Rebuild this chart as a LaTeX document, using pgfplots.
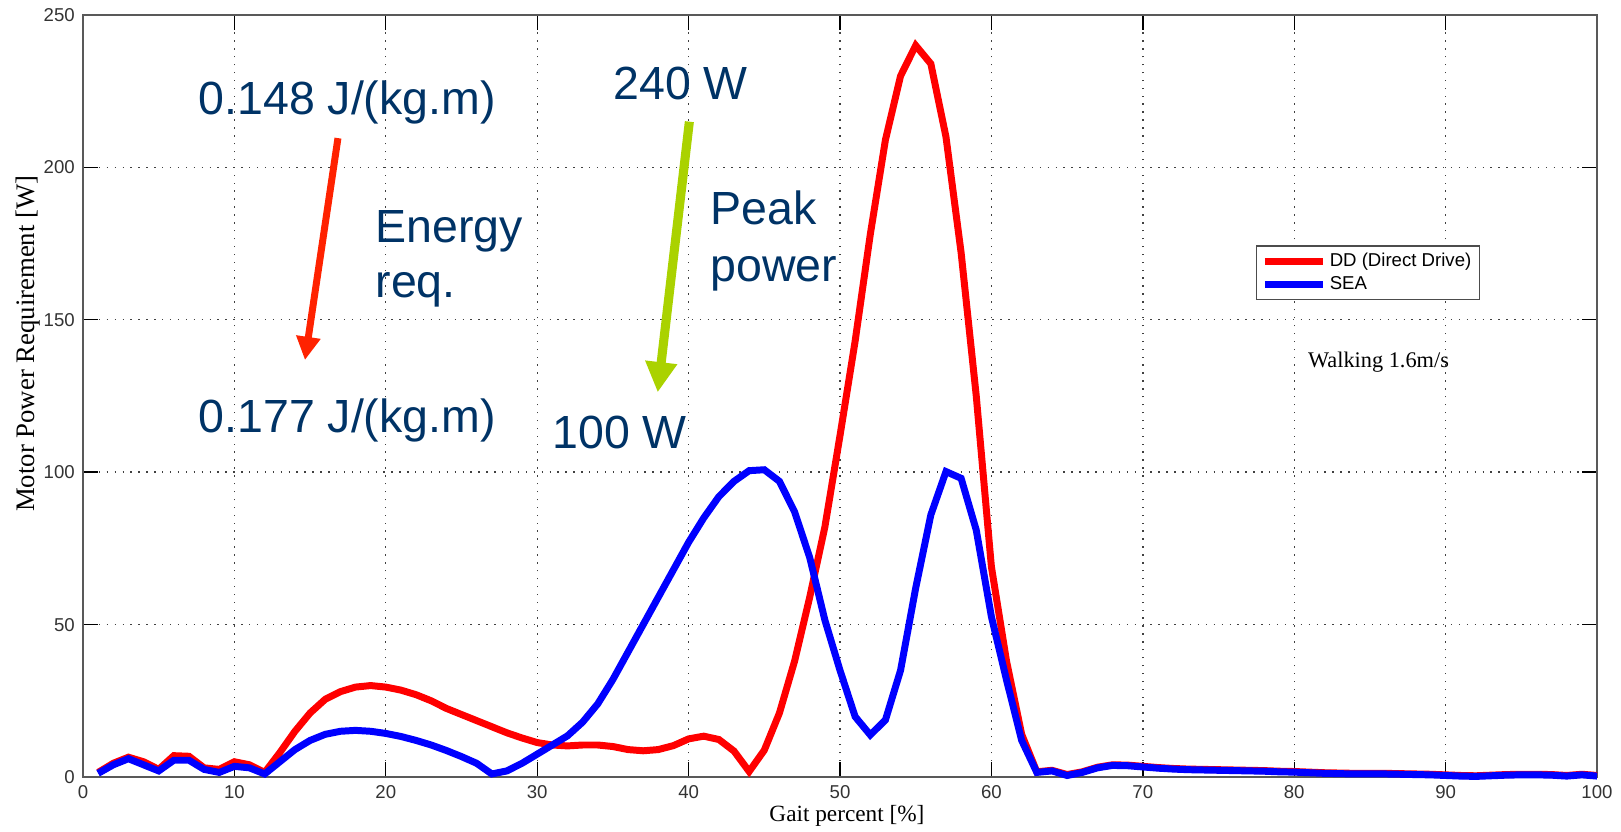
\documentclass[border=0pt]{standalone}
\usepackage{fontspec}
\setmainfont{Liberation Sans}
\newfontfamily\serif{Liberation Serif}
\usepackage{pgfplots}
\pgfplotsset{compat=1.18}
\usetikzlibrary{arrows.meta}

\definecolor{ddred}{RGB}{255,0,0}
\definecolor{seablue}{RGB}{0,0,255}
\definecolor{note}{RGB}{0,51,102}
\definecolor{arrred}{RGB}{255,34,0}
\definecolor{arrgreen}{RGB}{170,210,0}

\begin{document}
\begin{tikzpicture}
\begin{axis}[
    scale only axis,
    width=651pt, height=327.66pt,
    xmin=0, xmax=100, ymin=0, ymax=250,
    xtick={0,10,...,100}, ytick={0,50,...,250},
    tick align=inside,
    major tick length=6.5pt,
    tick style={black, line width=0.6pt},
    axis line style={black!65, line width=0.8pt},
    grid=major,
    major grid style={black!75, line width=0.6pt, dash pattern=on 0.6pt off 2.8pt},
    ticklabel style={font=\fontsize{8}{9}\selectfont, text=black!80},
    /pgf/number format/assume math mode=true,
    xlabel={Gait percent [\%]},
    ylabel={Motor Power Requirement [W]},
    xlabel style={at={(axis description cs:0.5046,-0.0587)}, anchor=base,
        font=\serif\fontsize{10}{12}\selectfont, inner sep=0pt},
    ylabel style={at={(axis description cs:-0.0366,0.5686)}, anchor=center,
        font=\serif\fontsize{11.5}{13}\selectfont, inner sep=0pt},
    legend style={at={(0.9227,0.698)}, anchor=north east,
        draw=black!70, line width=0.6pt,
        font=\fontsize{8}{9.5}\selectfont,
        inner xsep=2pt, inner ysep=1.5pt,
        nodes={inner sep=1.4pt}},
    legend cell align=left,
    legend image code/.code={\draw[#1] (0pt,0pt) -- (25pt,0pt);},
    clip=false,
]
\addplot[ddred, line width=3pt] coordinates {
(1,1.5)(2,4.5)(3,6.5)(4,5)(5,2.5)(6,7)(7,6.8)(8,3)(9,2.5)(10,5)
(11,4)(12,1.5)(13,8)(14,15)(15,21)(16,25.5)(17,28)(18,29.5)(19,30)(20,29.5)
(21,28.5)(22,27)(23,25)(24,22.5)(25,20.5)(26,18.5)(27,16.5)(28,14.5)(29,12.8)(30,11.3)
(31,10.5)(32,10.2)(33,10.5)(34,10.5)(35,10)(36,9)(37,8.6)(38,9)(39,10.3)(40,12.5)
(41,13.4)(42,12.3)(43,8.5)(44,1.8)(45,8.8)(46,21)(47,38)(48,59)(49,82)(50,112)
(51,143)(52,178)(53,209)(54,230)(55,240)(56,234)(57,210)(58,172)(59,125)(60,69)
(61,38)(62,14)(63,1.7)(64,2.2)(65,0.8)(66,1.7)(67,3.2)(68,4)(69,3.9)(70,3.5)
(71,3.1)(72,2.8)(73,2.6)(74,2.5)(75,2.4)(76,2.3)(77,2.2)(78,2.1)(79,1.9)(80,1.8)
(81,1.6)(82,1.4)(83,1.3)(84,1.2)(85,1.2)(86,1.2)(87,1.1)(88,1)(89,0.9)(90,0.7)
(91,0.5)(92,0.4)(93,0.6)(94,0.8)(95,0.9)(96,0.9)(97,0.8)(98,0.5)(99,0.9)(100,0.5)
};
\addlegendentry{DD (Direct Drive)}
\addplot[seablue, line width=3pt] coordinates {
(1,1.2)(2,4)(3,6)(4,4)(5,2)(6,5.5)(7,5.5)(8,2.5)(9,1.5)(10,3.5)
(11,3)(12,1)(13,5)(14,9)(15,12)(16,14)(17,15)(18,15.3)(19,15)(20,14.3)
(21,13.3)(22,12)(23,10.5)(24,8.7)(25,6.7)(26,4.5)(27,1)(28,2)(29,4.5)(30,7.5)
(31,10.5)(32,13.5)(33,18)(34,24)(35,32)(36,41)(37,50)(38,59)(39,68)(40,77)
(41,85)(42,92)(43,97)(44,100.5)(45,100.8)(46,97)(47,87)(48,72)(49,51.5)(50,35)
(51,19.8)(52,13.8)(53,18.7)(54,35)(55,62)(56,86)(57,100.2)(58,98)(59,81)(60,52.6)
(61,31.8)(62,12)(63,1.5)(64,2)(65,0.5)(66,1.5)(67,3)(68,3.8)(69,3.7)(70,3.3)
(71,2.9)(72,2.6)(73,2.4)(74,2.3)(75,2.2)(76,2.1)(77,2)(78,1.9)(79,1.7)(80,1.6)
(81,1.4)(82,1.2)(83,1.1)(84,1)(85,1)(86,1)(87,0.9)(88,0.8)(89,0.7)(90,0.5)
(91,0.3)(92,0.2)(93,0.4)(94,0.6)(95,0.7)(96,0.7)(97,0.6)(98,0.3)(99,0.7)(100,0.3)
};
\addlegendentry{SEA}

% annotations
\draw[arrred, line width=3pt, -{Triangle[width=10pt,length=10pt]}]
    (axis cs:16.84,209.6) -- (axis cs:14.66,136.8);
\draw[arrgreen, line width=3.9pt, -{Triangle[width=13pt,length=13pt]}]
    (axis cs:40.05,215) -- (axis cs:37.96,126.2);
\begin{scope}[every node/.style={font=\fontsize{20}{24}\selectfont, text=note, inner sep=0pt, anchor=base west}]
\node at (axis cs:7.6,217.2) {0.148 J/(kg.m)};
\node at (axis cs:7.6,112.9) {0.177 J/(kg.m)};
\node at (axis cs:19.29,175.2) {Energy};
\node at (axis cs:19.29,157.2) {req.};
\node at (axis cs:35.0,222.4) {240 W};
\node at (axis cs:30.98,107.9) {100 W};
\node at (axis cs:41.41,181.1) {Peak};
\node at (axis cs:41.41,162.4) {power};
\end{scope}
\node[font=\serif\fontsize{9.6}{11}\selectfont, inner sep=0pt, anchor=base]
    at (axis cs:85.57,134.5) {Walking 1.6m/s};

\coordinate (LL) at (rel axis cs:0,0);
\coordinate (UR) at (rel axis cs:1,1);
\end{axis}
\pgfresetboundingbox
\path (LL) ++(-35.69pt,-23.22pt) rectangle ([shift={(10.32pt,6.45pt)}]UR);
\end{tikzpicture}
\end{document}
